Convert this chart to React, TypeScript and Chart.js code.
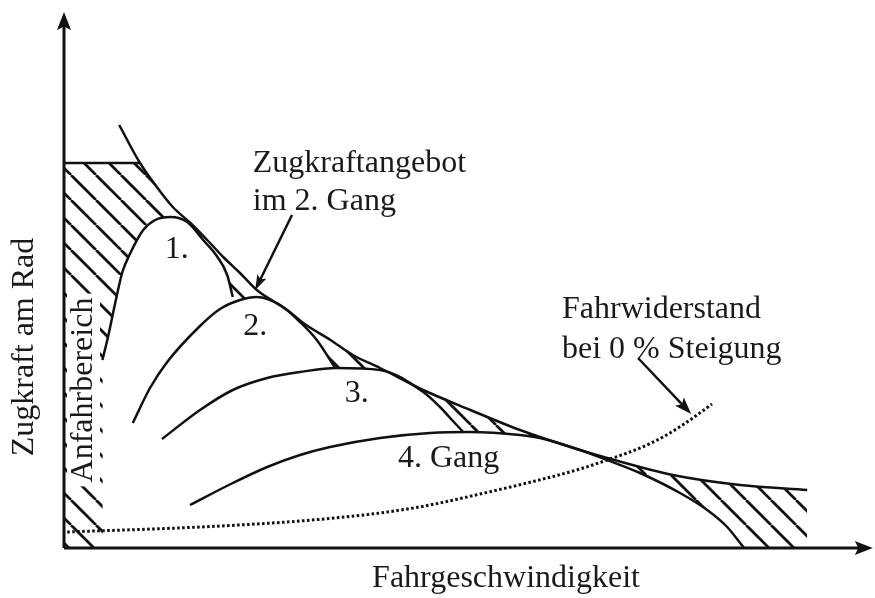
import React, { useEffect, useRef } from 'react';
import { Chart, registerables } from 'chart.js';

Chart.register(...registerables);

// Relative units: speed 0..100 on x, tractive force 0..100 on y.

// Ideal tractive-force hyperbola
const idealX = [6.9, 9.5, 11.6, 13.6, 15.8, 17.9, 19.9, 22.0, 24.1, 27.9, 29.9, 33.3, 36.1, 39.5, 44.9, 50.8, 57.0, 64.5, 67.9, 76.1, 84.5, 92.9];
const idealY = [84.6, 77.0, 72.2, 68.2, 65.0, 61.6, 58.2, 55.0, 51.6, 47.6, 45.0, 41.6, 38.6, 36.0, 31.6, 27.6, 23.6, 19.6, 18.0, 14.6, 12.6, 11.6];

// Upper limit (adhesion) at low speed
const limitX = [0, 9.5];
const limitY = [77.0, 77.0];

// Tractive force per gear
const gear1X = [4.8, 5.5, 6.4, 7.3, 8.3, 9.9, 11.4, 13.3, 15.4, 17.4, 19.1, 20.4, 21.1];
const gear1Y = [37.6, 42.2, 49.0, 55.2, 59.0, 63.6, 65.6, 66.2, 65.2, 61.6, 58.4, 54.6, 50.2];

const gear2X = [8.6, 10.75, 12.9, 17.0, 19.5, 22.0, 24.1, 27.0, 29.5, 31.6, 33.9];
const gear2Y = [25.0, 32.0, 37.2, 44.4, 47.8, 49.6, 50.2, 48.6, 45.2, 41.6, 36.0];

const gear3X = [12.25, 17.0, 21.1, 25.4, 29.5, 34.1, 39.5, 44.9, 47.0, 48.5, 49.9];
const gear3Y = [21.8, 27.6, 31.6, 34.0, 35.2, 36.0, 35.6, 31.2, 28.2, 25.6, 23.2];

const gear4X = [15.75, 21.1, 25.4, 29.5, 33.25, 39.5, 45.75, 50.75, 57.0, 59.5, 64.5, 67.9, 72.0, 77.0, 80.4, 82.9, 84.9];
const gear4Y = [8.6, 13.0, 16.2, 18.6, 20.2, 22.0, 23.0, 23.2, 22.6, 22.0, 19.6, 17.6, 15.0, 11.0, 7.6, 4.2, 0.2];

// Driving resistance on level road
const resistX = [0.4, 17.0, 29.5, 39.5, 45.75, 52.0, 58.9, 64.5, 67.9, 72.0, 75.1, 78.25, 81.0];
const resistY = [3.2, 4.2, 5.4, 7.0, 8.6, 10.8, 13.4, 15.8, 17.6, 20.0, 22.4, 25.6, 28.8];

// Axis extents (arrow tips)
const xAxisEnd = 101.1;
const yAxisEnd = 107.2;

type Pt = { x: number; y: number };
const zip = (xs: number[], ys: number[]): Pt[] => xs.map((x, i) => ({ x, y: ys[i] }));

const INK = '#111111';
const FONT = '32px "Liberation Serif", "Times New Roman", serif';

function makeHatch(): CanvasPattern | string {
  const size = 25;
  const c = document.createElement('canvas');
  c.width = size;
  c.height = size;
  const g = c.getContext('2d');
  if (!g) return INK;
  g.strokeStyle = INK;
  g.lineWidth = 2.7;
  const off = 21;
  for (let k = -2; k <= 1; k++) {
    g.beginPath();
    g.moveTo(off + k * size, 0);
    g.lineTo(off + k * size + size, size);
    g.stroke();
  }
  const p = g.createPattern(c, 'repeat');
  return p || INK;
}

function arrow(
  ctx: CanvasRenderingContext2D,
  x1: number, y1: number, x2: number, y2: number,
  len: number, half: number, width: number,
) {
  const a = Math.atan2(y2 - y1, x2 - x1);
  const c = Math.cos(a);
  const s = Math.sin(a);
  ctx.beginPath();
  ctx.moveTo(x1, y1);
  ctx.lineTo(x2 - c * len * 0.7, y2 - s * len * 0.7);
  ctx.lineWidth = width;
  ctx.stroke();
  ctx.beginPath();
  ctx.moveTo(x2, y2);
  ctx.lineTo(x2 - c * len - s * half, y2 - s * len + c * half);
  ctx.lineTo(x2 - c * len * 0.8, y2 - s * len * 0.8);
  ctx.lineTo(x2 - c * len + s * half, y2 - s * len - c * half);
  ctx.closePath();
  ctx.fill();
}

const decorations = {
  id: 'decorations',
  afterDraw(chart: any) {
    const ctx: CanvasRenderingContext2D = chart.ctx;
    const xs = chart.scales.x;
    const ys = chart.scales.y;
    const px = (v: number) => xs.getPixelForValue(v);
    const py = (v: number) => ys.getPixelForValue(v);

    ctx.save();
    ctx.strokeStyle = INK;
    ctx.fillStyle = INK;
    ctx.lineCap = 'butt';

    // axes with arrow heads
    arrow(ctx, px(0), py(0), px(0), py(yAxisEnd), 18, 7, 3);
    arrow(ctx, px(0), py(0), px(xAxisEnd), py(0), 18, 7, 3);

    // pointer arrows
    arrow(ctx, px(28.5), py(66.6), px(23.9), py(51.6), 15, 5, 2.5);
    arrow(ctx, px(71.75), py(38.0), px(78.4), py(26.8), 17, 6, 2.5);

    ctx.font = FONT;
    ctx.fillStyle = '#1a1a1a';
    ctx.textBaseline = 'alphabetic';
    ctx.textAlign = 'left';
    const put = (t: string, x: number, y: number) => ctx.fillText(t, px(x), py(y));
    put('Zugkraftangebot', 23.6, 75.2);
    put('im 2. Gang', 23.6, 67.6);
    put('1.', 12.6, 58.0);
    put('2.', 22.4, 42.6);
    put('3.', 35.1, 29.2);
    put('4. Gang', 41.75, 16.2);
    put('Fahrwiderstand', 62.25, 46.0);
    put('bei 0 % Steigung', 62.25, 38.0);

    ctx.textAlign = 'center';
    ctx.fillText('Fahrgeschwindigkeit', px(55.25), py(-7.8));

    // rotated labels
    const vertical = (t: string, x: number, y: number, clear: boolean) => {
      const w = ctx.measureText(t).width;
      const bx = px(x);
      const by = py(y);
      if (clear) {
        ctx.save();
        ctx.fillStyle = '#ffffff';
        ctx.fillRect(bx - 25, by - w / 2 - 4, 33, w + 8);
        ctx.restore();
      }
      ctx.save();
      ctx.translate(bx, by);
      ctx.rotate(-Math.PI / 2);
      ctx.fillText(t, 0, 0);
      ctx.restore();
    };
    vertical('Zugkraft am Rad', -3.9, 40.2, false);
    vertical('Anfahrbereich', 3.5, 31.6, true);

    ctx.restore();
  },
};

export default function App() {
  const ref = useRef<HTMLCanvasElement>(null);

  useEffect(() => {
    const canvas = ref.current;
    if (!canvas) return;
    const hatch = makeHatch();

    const ideal = zip(idealX, idealY);
    const hatchEdge = ideal.filter((p) => p.x >= limitX[1]);

    const curve = {
      borderColor: INK,
      borderWidth: 2.5,
      pointRadius: 0,
      cubicInterpolationMode: 'monotone' as const,
    };

    const gear = (label: string, xs: number[], ys: number[]) => ({
      ...curve,
      label,
      data: zip(xs, ys),
      fill: 'origin',
      backgroundColor: '#ffffff',
      order: 5,
    });

    const chart = new Chart(canvas, {
      type: 'line',
      data: {
        datasets: [
          {
            label: 'Kraftschlussgrenze',
            data: zip(limitX, limitY),
            borderColor: INK,
            borderWidth: 2.5,
            pointRadius: 0,
            tension: 0,
            fill: 'origin',
            backgroundColor: hatch as any,
            order: 10,
          },
          {
            label: 'Zugkraftlücke',
            data: hatchEdge,
            ...curve,
            borderWidth: 0,
            borderColor: 'rgba(0,0,0,0)',
            fill: 'origin',
            backgroundColor: hatch as any,
            order: 10,
          },
          gear('1. Gang', gear1X, gear1Y),
          gear('2. Gang', gear2X, gear2Y),
          gear('3. Gang', gear3X, gear3Y),
          gear('4. Gang', gear4X, gear4Y),
          {
            label: 'Zugkrafthyperbel',
            data: ideal,
            ...curve,
            fill: false,
            order: 1,
          },
          {
            label: 'Fahrwiderstand',
            data: zip(resistX, resistY),
            ...curve,
            borderWidth: 3,
            borderDash: [2.6, 2.4],
            borderCapStyle: 'butt',
            fill: false,
            order: 0,
          },
        ] as any,
      },
      options: {
        responsive: false,
        animation: false,
        events: [],
        layout: { padding: { left: 64, right: 11, top: 48, bottom: 50 } },
        scales: {
          x: { type: 'linear', min: 0, max: 100, display: false },
          y: { type: 'linear', min: 0, max: 100, display: false },
        },
        plugins: {
          legend: { display: false },
          tooltip: { enabled: false },
          filler: { drawTime: 'beforeDatasetsDraw' },
        } as any,
      },
      plugins: [decorations],
    });

    return () => chart.destroy();
  }, []);

  return (
    <div style={{ position: 'fixed', left: 0, top: 0, width: 875, height: 598, background: '#ffffff' }}>
      <canvas ref={ref} width={875} height={598} style={{ display: 'block' }} />
    </div>
  );
}
